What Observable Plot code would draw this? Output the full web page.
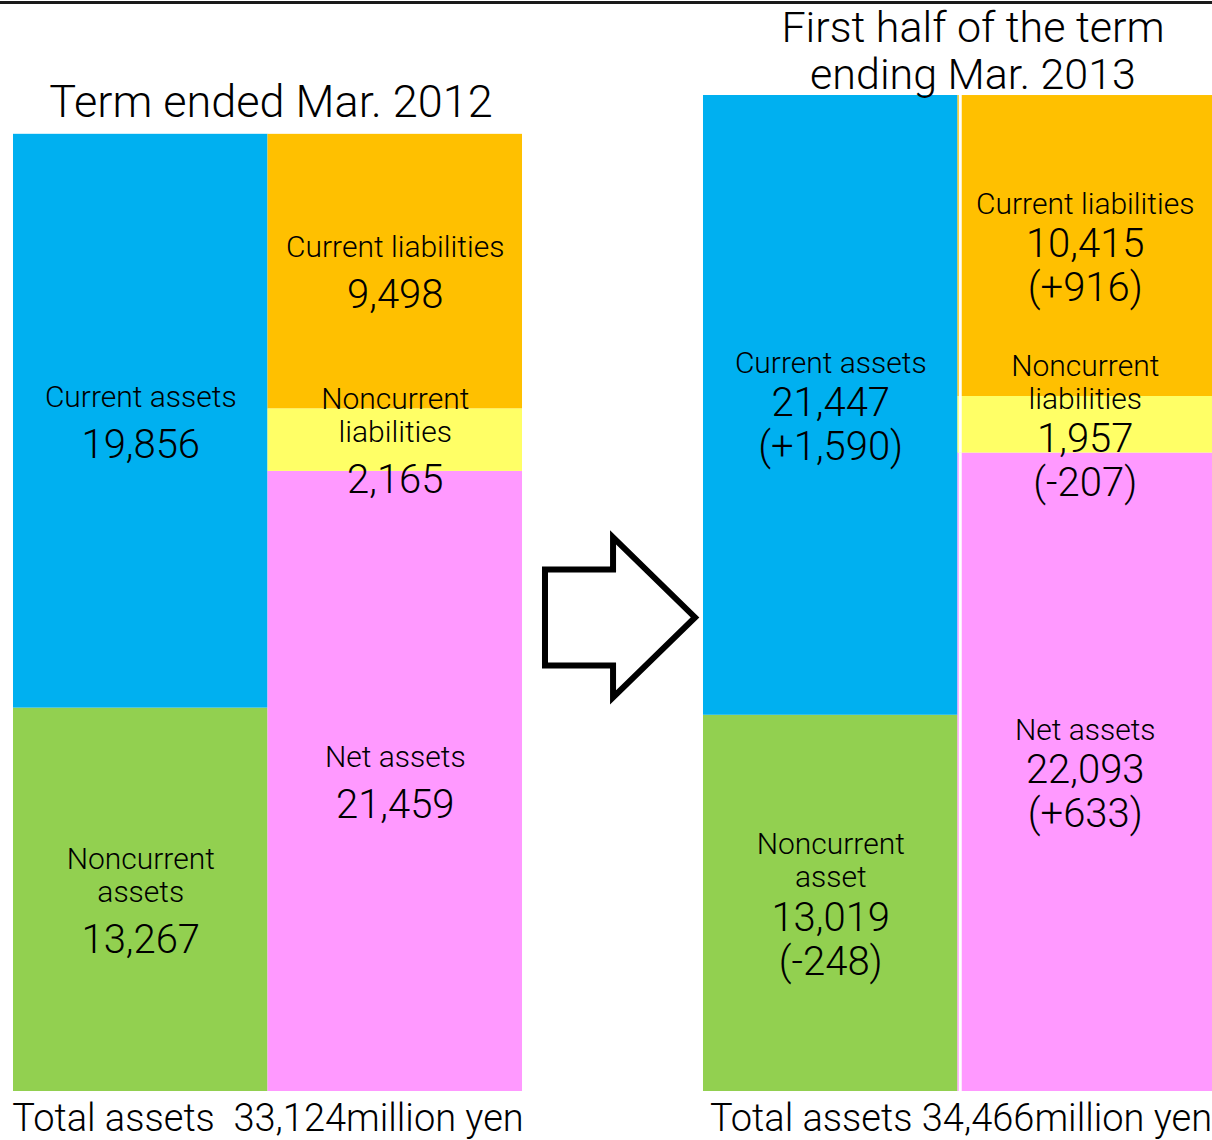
<!DOCTYPE html>
<html><head><meta charset="utf-8">
<script src="https://cdn.jsdelivr.net/npm/d3@7"></script>
<script src="https://cdn.jsdelivr.net/npm/@observablehq/plot@0.6"></script>
<style>
html,body{margin:0;padding:0;background:#fff;}
#wrap{position:relative;width:1212px;height:1140px;overflow:hidden;}
#rule{position:absolute;left:0;top:1px;width:1212px;height:3px;background:#1a1a1a;}
#chart svg g[aria-label="amount"] text{letter-spacing:4.5px;}
#chart svg g[aria-label="label"] text{letter-spacing:0.8px;}
</style></head>
<body><div id="wrap"><div id="chart"></div><div id="rule"></div></div>
<script>
// ---- data ----
const periods = ["Term ended Mar. 2012", "First half of the term\nending Mar. 2013"];
const kinds = ["Noncurrent assets", "Current assets", "Net assets", "Noncurrent liabilities", "Current liabilities"]; // bottom-to-top within each side
const sides = ["Assets", "Assets", "Liabilities", "Liabilities", "Liabilities"];
const labels2012 = ["Noncurrent\nassets", "Current assets", "Net assets", "Noncurrent\nliabilities", "Current liabilities"];
const values2012 = [13267, 19856, 21459, 2165, 9498];
const labels2013 = ["Noncurrent\nasset", "Current assets", "Net assets", "Noncurrent\nliabilities", "Current liabilities"];
const values2013 = [13019, 21447, 22093, 1957, 10415];
const changes2013 = ["-248", "+1,590", "+633", "-207", "+916"];
const totals = [33124, 34466];
const footerPrefix = ["Total assets\u00a0\u00a0", "Total assets "];
const footerUnit = "million yen";

// ---- styles ----
const kindColors = ["#92D050", "#00B0F0", "#FF99FF", "#FFFF66", "#FFC000"];
const FONT = "Roboto, Liberation Sans, Arial, sans-serif";
const WEIGHT = 300;
const fmt = d3.format(",");

// ---- derived table (stacking) ----
const rows = [];
[[labels2012, values2012, null], [labels2013, values2013, changes2013]].forEach(([labels, values, changes], pi) => {
  const acc = {};
  kinds.forEach((k, i) => {
    const s = sides[i];
    const y1 = acc[s] ?? 0, y2 = y1 + values[i];
    acc[s] = y2;
    rows.push({period: periods[pi], side: s, kind: k, label: labels[i], value: values[i],
               change: changes ? changes[i] : null, y1, y2, ym: (y1 + y2) / 2});
  });
});

const lineRows = rows.flatMap(r => {
  const parts = r.label.split("\n").map(t => ({t, type: "label"}));
  parts.push({t: fmt(r.value), type: "amount"});
  if (r.change) parts.push({t: `(${r.change})`, type: "amount"});
  let pos = 0; const out = [];
  parts.forEach((p, i) => {
    if (i > 0) {
      const prev = parts[i - 1];
      pos += (prev.type === "label" && p.type === "label") ? 33 : prev.type === "label" ? (r.change ? 40 : 48) : 44;
    }
    out.push({...p, pos});
  });
  const c = (out[0].pos + out[out.length - 1].pos) / 2;
  return out.map(o => ({period: r.period, side: r.side, ym: r.ym, text: o.t, type: o.type, off: o.pos - c}));
});

const textMarks = d3.groups(lineRows, d => d.type, d => d.off).flatMap(([type, byOff]) =>
  byOff.map(([off, data]) => Plot.text(data, {
    fx: "period", x: "side", y: "ym", text: "text", dy: off, lineAnchor: "middle",
    fontSize: type === "label" ? 30 : 40, fontFamily: FONT, fontWeight: WEIGHT, fill: "#000", ariaLabel: type
  }))
);

const titleRows = periods.map((p, i) => ({period: p, total: totals[i]}));
const footerRows = periods.map((p, i) => ({period: p, text: footerPrefix[i] + fmt(totals[i]) + footerUnit}));

let arrowDone = false;
function arrowMark(index, scales, values, dims) {
  if (arrowDone) return null;
  arrowDone = true;
  const fx = scales.fx, x = scales.x, y = scales.y;
  const x0 = x("Liabilities") + x.bandwidth();          // right edge of the first panel
  const gap = fx(periods[1]) - fx(periods[0]) - fx.bandwidth();
  const cy = y(totals[0] / 2) + 5;
  const bl = x0 + gap * 0.127, hb = x0 + gap * 0.503, tip = x0 + gap * 0.956;
  const bh = 48, hh = 80;
  const pts = [[bl, cy - bh], [hb, cy - bh], [hb, cy - hh], [tip, cy], [hb, cy + hh], [hb, cy + bh], [bl, cy + bh]];
  const g = d3.create("svg:g");
  g.append("path").attr("d", "M" + pts.map(p => p.join(",")).join("L") + "Z")
    .attr("fill", "#fff").attr("stroke", "#000").attr("stroke-width", 6).attr("stroke-linejoin", "miter");
  return g.node();
}

const chart = Plot.plot({
  width: 1212, height: 1140,
  marginTop: 95, marginBottom: 49, marginLeft: 13, marginRight: 0,
  style: {fontFamily: FONT, background: "transparent", overflow: "visible"},
  fx: {domain: periods, paddingInner: 0.2623, paddingOuter: 0, round: false, axis: null, label: null},
  x: {domain: ["Assets", "Liabilities"], padding: 0, round: false, axis: null},
  y: {domain: [0, totals[1]], axis: null},
  color: {domain: kinds, range: kindColors},
  marks: [
    Plot.barY(rows, {fx: "period", x: "side", y1: "y1", y2: "y2", fill: "kind"}),
    Plot.ruleX(rows.filter(r => r.period === periods[1] && r.side === "Liabilities"), {
      fx: "period", x: "side", y1: "y1", y2: "y2", stroke: "#fff", strokeWidth: 3, dx: -125
    }),
    ...textMarks,
    Plot.text(titleRows.slice(0, 1), {fx: "period", y: "total", text: "period", lineAnchor: "bottom",
      dy: -17, dx: 3, fontSize: 45, fontFamily: FONT, fontWeight: WEIGHT, fill: "#000"}),
    Plot.text(titleRows.slice(1), {fx: "period", y: "total", text: "period", lineAnchor: "bottom",
      dy: -7, dx: 15, fontSize: 43, lineHeight: 1.08, fontFamily: FONT, fontWeight: WEIGHT, fill: "#000"}),
    Plot.text(footerRows.slice(0, 1), {fx: "period", y: 0, text: "text", lineAnchor: "bottom",
      dy: 39, fontSize: 38, fontFamily: FONT, fontWeight: WEIGHT, fill: "#000"}),
    Plot.text(footerRows.slice(1), {fx: "period", y: 0, text: "text", lineAnchor: "bottom",
      dy: 39, dx: 3, fontSize: 38, fontFamily: FONT, fontWeight: WEIGHT, fill: "#000"}),
    arrowMark
  ]
});
document.getElementById("chart").appendChild(chart);
</script>
</body></html>
